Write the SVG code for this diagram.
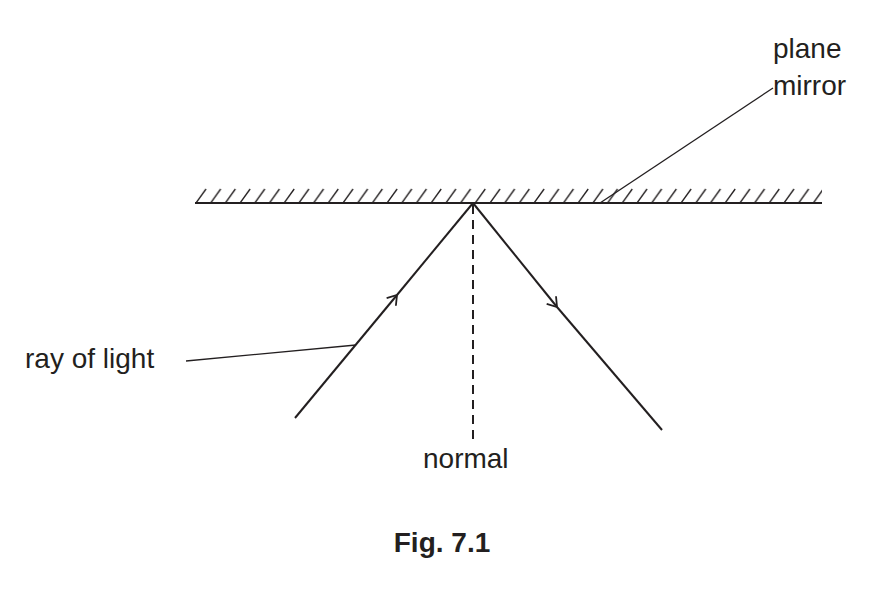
<svg xmlns="http://www.w3.org/2000/svg" width="885" height="592" viewBox="0 0 885 592">
<style>
text{font-family:"Liberation Sans",Arial,sans-serif;font-size:28px;fill:#231f20}
.l{stroke:#231f20;fill:none;stroke-width:2}
.t{stroke:#231f20;fill:none;stroke-width:1.3}
</style>
<defs>
<pattern id="h" x="195" y="186" width="14.7" height="17" patternUnits="userSpaceOnUse">
<line x1="1" y1="17" x2="11" y2="3" stroke="#231f20" stroke-width="1.3"/>
</pattern>
<marker id="a" markerWidth="14" markerHeight="14" refX="10" refY="7" orient="auto" markerUnits="userSpaceOnUse">
<path d="M1,1 L10,7 L1,13" fill="none" stroke="#231f20" stroke-width="1.8"/>
</marker>
</defs>
<rect width="885" height="592" fill="#fff"/>
<g id="mirror">
<rect x="195" y="186" width="627" height="16" fill="url(#h)"/>
<line class="l" x1="195" y1="203" x2="822" y2="203" stroke-width="3"/>
</g>
<g id="connectors">
<path class="l" d="M295,418 L397,295" marker-end="url(#a)"/>
<line class="l" x1="397" y1="295" x2="473" y2="203"/>
<path class="l" d="M473,203 L557,307" marker-end="url(#a)"/>
<line class="l" x1="557" y1="307" x2="662" y2="430"/>
<line class="l" x1="473" y1="205" x2="473" y2="442" stroke-width="1.5" stroke-dasharray="9,6"/>
<line class="t" x1="600" y1="203" x2="773" y2="88"/>
<line class="t" x1="186" y1="361" x2="356" y2="345"/>
</g>
<g id="labels">
<text x="773" y="58">plane</text>
<text x="773" y="95">mirror</text>
<text x="25" y="368">ray of light</text>
<text x="423" y="468">normal</text>
<text x="442" y="552" text-anchor="middle" font-weight="bold">Fig. 7.1</text>
</g>
</svg>
